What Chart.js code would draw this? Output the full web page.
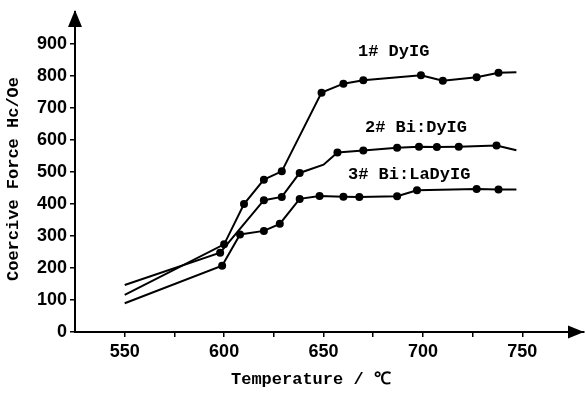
<!DOCTYPE html>
<html>
<head>
<meta charset="utf-8">
<script src="https://cdn.jsdelivr.net/npm/chart.js@4.4.1/dist/chart.umd.min.js"></script>
<style>
  html, body { margin: 0; padding: 0; background: #fff; }
  #wrap { width: 585px; height: 394px; }
</style>
</head>
<body>
<div id="wrap"><canvas id="myChart" width="585" height="394"></canvas></div>
<script>
// data
const seriesNames = ["1# DyIG", "2# Bi:DyIG", "3# Bi:LaDyIG"];

const s1Temp = [550, 600, 610, 620, 629, 649, 660, 670, 699, 710, 727, 738, 747];
const s1Hc   = [116, 274, 400, 476, 502, 748, 776, 787, 802, 785, 796, 810, 812];

const s2Temp = [550, 598, 620, 629, 638, 650, 657, 670, 687, 698, 707, 718, 737, 747];
const s2Hc   = [147, 248, 412, 422, 497, 523, 561, 567, 576, 579, 578, 579, 583, 568];

const s3Temp = [550, 599, 608, 620, 628, 638, 648, 660, 668, 687, 697, 727, 738, 747];
const s3Hc   = [90, 207, 305, 316, 338, 416, 425, 423, 422, 424, 443, 447, 445, 445];

const xTicks = [550, 575, 600, 625, 650, 675, 700, 725, 750];
const yTicks = [0, 100, 200, 300, 400, 500, 600, 700, 800, 900];

const monoFont = '"Liberation Mono", "DejaVu Sans Mono", monospace';
const numFont = '"Liberation Sans", Arial, sans-serif';

function toPoints(xs, ys) {
    return xs.map((x, i) => ({ x: x, y: ys[i] }));
}

// no dot on the end points (and on the unmarked bend of series 2)
function radiusFor(skip) {
    return function (ctx) {
        const n = ctx.dataset.data.length;
        if (ctx.dataIndex === 0 || ctx.dataIndex === n - 1) return 0;
        if (skip.indexOf(ctx.dataIndex) >= 0) return 0;
        return 4;
    };
}

function lineSet(label, xs, ys, skip) {
    return {
        label: label,
        data: toPoints(xs, ys),
        borderColor: '#000',
        backgroundColor: '#000',
        borderWidth: 2,
        pointRadius: radiusFor(skip),
        pointBorderWidth: 0,
        tension: 0
    };
}

const decor = {
    id: 'decor',
    afterDraw(chart) {
        const ctx = chart.ctx;
        const a = chart.chartArea;
        ctx.save();
        ctx.fillStyle = '#000';
        // arrow heads
        ctx.beginPath();
        ctx.moveTo(a.left, a.top - 2);
        ctx.lineTo(a.left - 7, a.top + 15);
        ctx.lineTo(a.left + 7, a.top + 15);
        ctx.closePath();
        ctx.fill();
        ctx.beginPath();
        ctx.moveTo(a.right, a.bottom);
        ctx.lineTo(a.right - 16, a.bottom - 6.5);
        ctx.lineTo(a.right - 16, a.bottom + 6.5);
        ctx.closePath();
        ctx.fill();

        // axis titles
        ctx.font = 'bold 17px ' + monoFont;
        ctx.textBaseline = 'middle';
        ctx.textAlign = 'left';
        ctx.fillText('Temperature / \u2103', 231, 380);
        ctx.save();
        ctx.translate(14, 179);
        ctx.rotate(-Math.PI / 2);
        ctx.textAlign = 'center';
        ctx.fillText('Coercive Force Hc/Oe', 0, 0);
        ctx.restore();

        // series labels
        ctx.fillText(seriesNames[0], 358, 52);
        ctx.fillText(seriesNames[1], 365, 128);
        ctx.fillText(seriesNames[2], 348, 175);
        ctx.restore();
    }
};

new Chart("myChart", {
    type: 'line',
    data: {
        datasets: [
            lineSet(seriesNames[0], s1Temp, s1Hc, []),
            lineSet(seriesNames[1], s2Temp, s2Hc, [5]),
            lineSet(seriesNames[2], s3Temp, s3Hc, [])
        ]
    },
    options: {
        responsive: false,
        animation: false,
        layout: { padding: { top: 10, right: 1, left: 0, bottom: 0 } },
        plugins: {
            legend: { display: false },
            tooltip: { enabled: false }
        },
        scales: {
            x: {
                type: 'linear',
                min: 525,
                max: 781,
                afterFit(scale) { scale.height = 62; },
                afterBuildTicks(scale) { scale.ticks = xTicks.map(v => ({ value: v })); },
                border: { display: true, color: '#000', width: 2 },
                grid: { drawOnChartArea: false, drawTicks: true, tickLength: 5, color: '#000', lineWidth: 1.5 },
                ticks: {
                    color: '#000',
                    padding: 6,
                    maxRotation: 0,
                    autoSkip: false,
                    font: { family: numFont, size: 18, weight: 'bold', lineHeight: 1 },
                    callback: v => (v % 50 === 0 ? String(v) : '')
                }
            },
            y: {
                type: 'linear',
                min: 0,
                max: 1000,
                afterFit(scale) { scale.width = 75; },
                afterBuildTicks(scale) { scale.ticks = yTicks.map(v => ({ value: v })); },
                border: { display: true, color: '#000', width: 2 },
                grid: { drawOnChartArea: false, drawTicks: true, tickLength: 5, color: '#000', lineWidth: 1.5 },
                ticks: {
                    color: '#000',
                    padding: 3,
                    autoSkip: false,
                    font: { family: numFont, size: 18, weight: 'bold', lineHeight: 1 },
                    callback: v => String(v)
                }
            }
        }
    },
    plugins: [decor]
});
</script>
</body>
</html>
